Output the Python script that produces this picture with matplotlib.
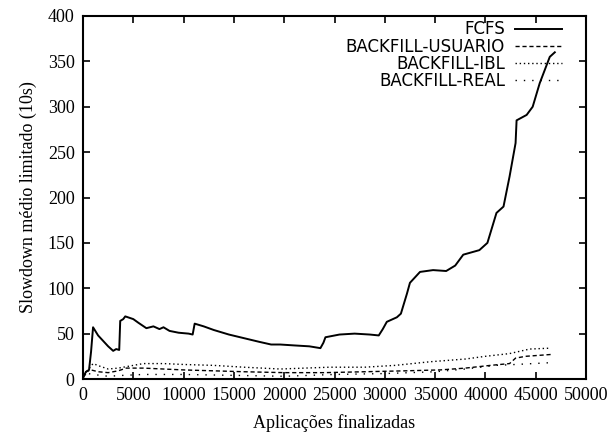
import matplotlib
matplotlib.use("Agg")
import matplotlib.pyplot as plt

# slowdown curves per scheduling policy
fcfs_x = [0, 300, 600, 800, 1000, 1500, 2000, 2500, 3000, 3300, 3600, 3700, 4000, 4200,
          5000, 5500, 6300, 7000, 7600, 8000, 8600, 9500, 10500, 10900, 11100, 12000,
          13000, 14500, 16000, 17500, 18700, 19600, 21000, 22500, 23600, 23900, 24100,
          25500, 27000, 28500, 29400, 29800, 30200, 31200, 31600, 32200, 32500, 33500,
          34800, 36100, 37000, 37800, 39400, 40200, 41100, 41800, 42400, 43000, 43100,
          44100, 44700, 45400, 46400, 46900]
fcfs_y = [2, 8, 10, 30, 57, 48, 42, 36, 31, 33, 32, 64, 66, 69,
          66, 62, 56, 58, 55, 57, 53, 51, 50, 49, 61, 58,
          54, 49, 45, 41, 38, 38, 37, 36, 34, 40, 46,
          49, 50, 49, 48, 55, 63, 68, 72, 94, 106, 118,
          120, 119, 125, 137, 142, 150, 183, 190, 223, 260, 285,
          291, 300, 326, 355, 360]

usuario_x = [0, 300, 800, 1500, 2500, 3500, 4300, 6000, 8000, 10000, 13000, 16000,
             20000, 24000, 28000, 32000, 35500, 38000, 40500, 42400, 43000, 44000, 46500]
usuario_y = [0, 8, 10, 8, 7, 9, 12, 12, 11, 10, 9, 8,
             7, 7, 8, 9, 10, 12, 15, 17, 23, 25, 27]

ibl_x = [0, 500, 1000, 1700, 2500, 3500, 4500, 6000, 8000, 10000, 13000, 16000,
         19600, 24500, 28000, 31000, 34500, 38000, 40000, 42400, 44400, 46500]
ibl_y = [0, 10, 17, 14, 11, 12, 14, 17, 17, 16, 15, 13,
         11, 13, 13, 15, 19, 22, 25, 28, 33, 34]

real_x = [0, 500, 1000, 2500, 4000, 6000, 10000, 15000, 20000, 25000, 30000,
          35000, 38000, 41000, 43000, 46500]
real_y = [0, 6, 5, 3, 4, 5, 5, 4, 3, 5, 6,
          8, 11, 15, 16, 18]

xticks = list(range(0, 50001, 5000))
yticks = list(range(0, 401, 50))

fig = plt.figure(figsize=(6.13, 4.37), dpi=100)
ax = fig.add_axes([83/613, 58/437, 503/613, 363/437])

ax.plot(fcfs_x, fcfs_y, color="black", lw=1.4, label="FCFS")
ax.plot(usuario_x, usuario_y, color="black", lw=1.0, ls=(0, (3, 2)), label="BACKFILL-USUARIO")
ax.plot(ibl_x, ibl_y, color="black", lw=1.0, ls=(0, (1, 2)), label="BACKFILL-IBL")
ax.plot(real_x, real_y, color="black", lw=1.0, ls=(0, (1, 5)), label="BACKFILL-REAL")

ax.set_xlim(0, 50000)
ax.set_ylim(0, 400)
ax.set_xticks(xticks)
ax.set_yticks(yticks)
ax.tick_params(direction="in", top=True, right=True, length=5, width=1.2,
               labelsize=13, pad=6)
for lab in ax.get_xticklabels() + ax.get_yticklabels():
    lab.set_family("Liberation Serif")
for s in ax.spines.values():
    s.set_linewidth(1.5)

ax.set_xlabel("Aplicações finalizadas", family="Liberation Serif", fontsize=13, labelpad=7)
ax.set_ylabel("Slowdown médio limitado (10s)", family="Liberation Serif", fontsize=13, labelpad=8)

ax.legend(loc="upper right", frameon=False, markerfirst=False, handlelength=2.8,
          handletextpad=0.6, labelspacing=-0.05, borderaxespad=0.3,
          bbox_to_anchor=(0.975, 1.02),
          prop={"family": "DejaVu Sans", "size": 12})

fig.savefig("out.png", dpi=100)
